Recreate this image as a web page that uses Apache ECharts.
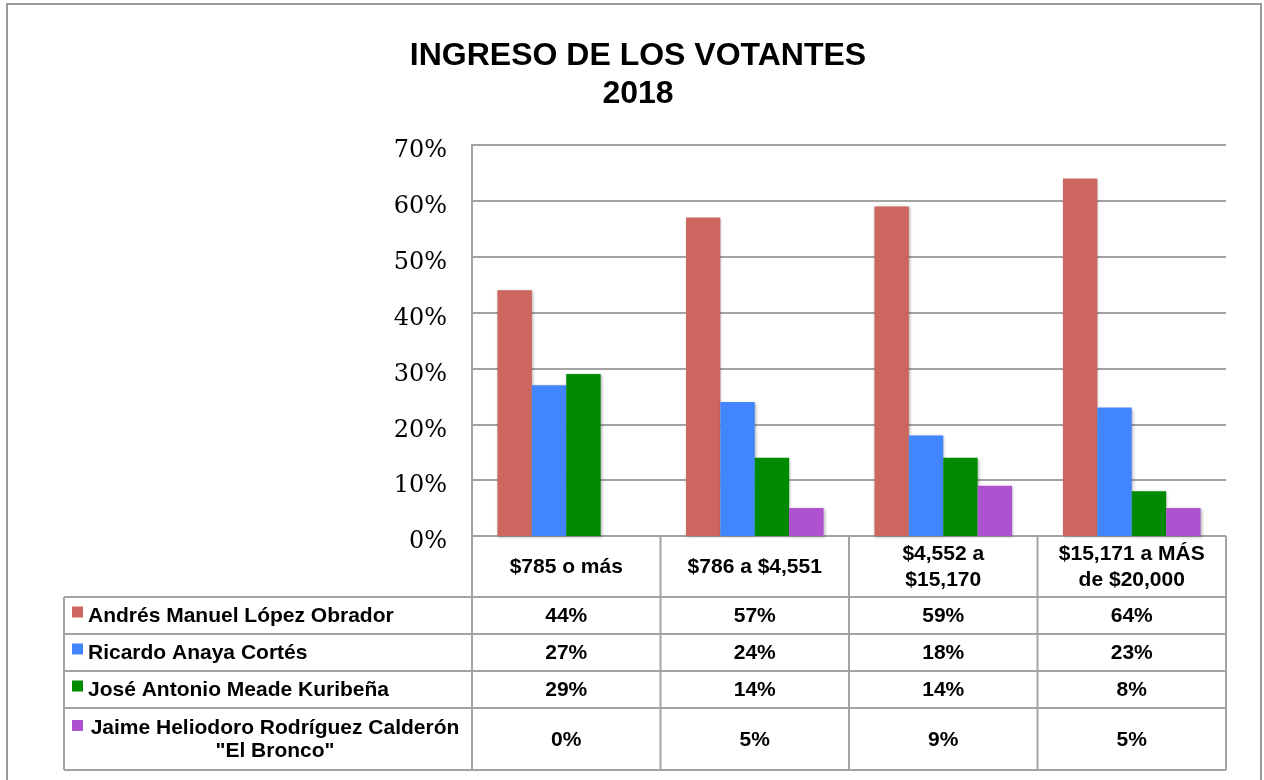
<!DOCTYPE html>
<html>
<head>
<meta charset="utf-8">
<script src="https://cdn.jsdelivr.net/npm/echarts@6/dist/echarts.min.js"></script>
<style>
  html, body { margin: 0; padding: 0; background: #fff; }
  #chart_ingreso { width: 1264px; height: 780px; }
</style>
</head>
<body>
<div id="chart_ingreso"></div>
<script>
  // datos
  const categories = ['$785 o más', '$786 a $4,551', '$4,552 a\n$15,170', '$15,171 a MÁS\nde $20,000'];
  const candidatos = ['Andrés Manuel López Obrador', 'Ricardo Anaya Cortés', 'José Antonio Meade Kuribeña', 'Jaime Heliodoro Rodríguez Calderón\n"El Bronco"'];
  const amlo = [44, 57, 59, 64];
  const anaya = [27, 24, 18, 23];
  const meade = [29, 14, 14, 8];
  const bronco = [0, 5, 9, 5];
  const yTicks = [0, 10, 20, 30, 40, 50, 60, 70];

  const colores = ['#cc665f', '#4286ff', '#008a00', '#ae52cf'];
  const valores = [amlo, anaya, meade, bronco];

  // layout de la tabla
  const gLeft = 472, gRight = 1226, gTop = 145, gBottom = 536;
  const tLeft = 64;
  const rows = [536, 597, 634, 671, 708, 770];
  const colW = (gRight - gLeft) / categories.length;
  const lineColor = '#a3a3a3';
  const font = 'bold 21px "Liberation Sans", Arial, sans-serif';

  let graphic = [];
  // marco exterior
  graphic.push({type: 'rect', shape: {x: 7, y: 4, width: 1254, height: 800},
    style: {fill: null, stroke: '#9a9a9a', lineWidth: 2}, silent: true});

  // lineas horizontales
  for (let r = 0; r < rows.length; r++) {
    let x1 = r === 0 ? gLeft : tLeft;
    graphic.push({type: 'line', shape: {x1: x1, y1: rows[r], x2: gRight, y2: rows[r]},
      style: {stroke: lineColor, lineWidth: 2}});
  }
  // lineas verticales
  graphic.push({type: 'line', shape: {x1: tLeft, y1: rows[1], x2: tLeft, y2: rows[5]},
    style: {stroke: lineColor, lineWidth: 2}});
  for (let c = 0; c <= categories.length; c++) {
    let x = gLeft + c * colW;
    graphic.push({type: 'line', shape: {x1: x, y1: rows[0], x2: x, y2: rows[5]},
      style: {stroke: lineColor, lineWidth: 2}});
  }
  // encabezados
  for (let c = 0; c < categories.length; c++) {
    graphic.push({type: 'text', style: {text: categories[c], x: gLeft + (c + 0.5) * colW,
      y: (rows[0] + rows[1]) / 2 + 1, align: 'center', verticalAlign: 'middle',
      font: font, lineHeight: 26, fill: '#000'}});
  }
  // filas
  for (let r = 0; r < candidatos.length; r++) {
    let yc = (rows[r + 1] + rows[r + 2]) / 2;
    let multi = candidatos[r].indexOf('\n') >= 0;
    graphic.push({type: 'rect', shape: {x: 72, y: multi ? rows[r + 1] + 12 : yc - 9, width: 11, height: 11},
      style: {fill: colores[r]}});
    graphic.push({type: 'text', style: {text: candidatos[r], x: multi ? 275 : 88, y: yc + 1,
      align: multi ? 'center' : 'left', verticalAlign: 'middle', font: font, lineHeight: 23, fill: '#000'}});
    for (let c = 0; c < categories.length; c++) {
      graphic.push({type: 'text', style: {text: valores[r][c] + '%', x: gLeft + (c + 0.5) * colW,
        y: yc + 1, align: 'center', verticalAlign: 'middle', font: font, fill: '#000'}});
    }
  }

  let myChart = echarts.init(document.getElementById('chart_ingreso'));

  let series = [];
  for (let i = 0; i < candidatos.length; i++) {
    series.push({
      name: candidatos[i],
      type: 'bar',
      data: valores[i],
      barGap: '0%',
      barCategoryGap: '27%',
      itemStyle: {color: colores[i], shadowBlur: 3, shadowColor: 'rgba(0,0,0,0.3)', shadowOffsetX: 1, shadowOffsetY: 1}
    });
  }

  let option = {
    animation: false,
    backgroundColor: '#fff',
    title: {
      text: 'INGRESO DE LOS VOTANTES\n2018',
      left: 633,
      top: 32,
      textAlign: 'center',
      textStyle: {
        fontFamily: '"Liberation Sans", Arial, sans-serif',
        fontWeight: 'bold',
        fontSize: 32,
        lineHeight: 38,
        color: '#000'
      }
    },
    grid: {left: gLeft, right: 1264 - gRight, top: gTop, bottom: 780 - gBottom, containLabel: false},
    xAxis: {
      type: 'category',
      data: categories,
      axisLine: {show: false},
      axisTick: {show: false},
      axisLabel: {show: false}
    },
    yAxis: {
      type: 'value',
      min: yTicks[0],
      max: yTicks[yTicks.length - 1],
      interval: 10,
      axisLine: {show: true, lineStyle: {color: lineColor, width: 2}},
      axisTick: {show: false},
      axisLabel: {
        formatter: '{a|{value}%}',
        margin: 25,
        rich: {
          a: {
            fontFamily: '"DejaVu Serif", serif',
            fontSize: 24,
            padding: [12, 0, 0, 0],
            color: '#000'
          }
        }
      },
      splitLine: {lineStyle: {color: lineColor, width: 2}}
    },
    graphic: graphic,
    series: series
  };

  myChart.setOption(option);
</script>
</body>
</html>
